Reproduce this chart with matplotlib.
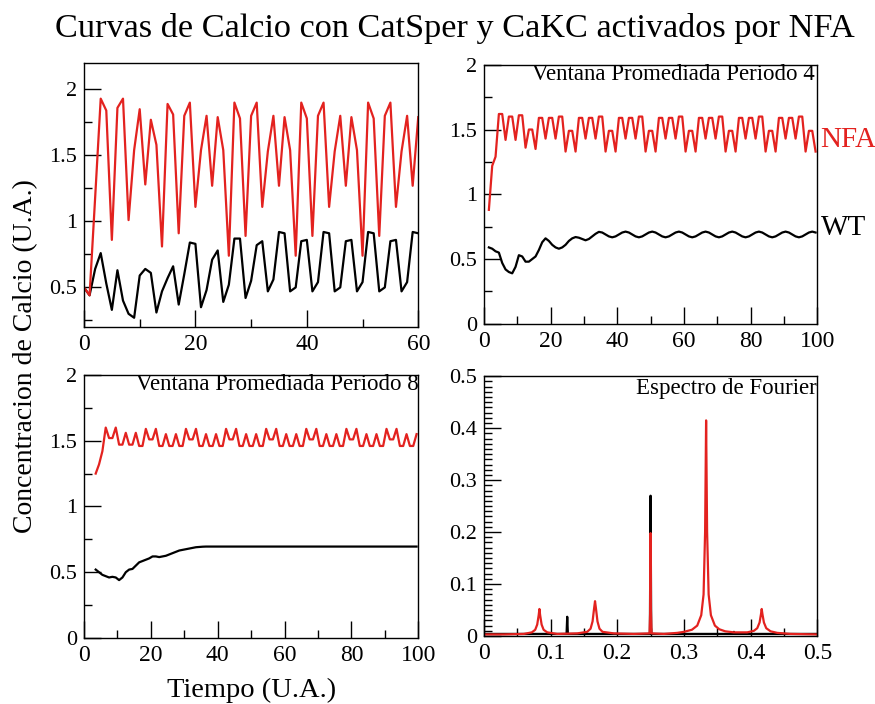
import numpy as np
import matplotlib
matplotlib.use("Agg")
import matplotlib.pyplot as plt
from matplotlib.ticker import MultipleLocator, FuncFormatter

plt.rcParams["font.family"] = ["Liberation Serif", "DejaVu Serif"]

ROJO = "#e3221f"
NEGRO = "black"

# ---------------------------------------------------------------
# Curvas originales (t = 0..60)
# ---------------------------------------------------------------
t_curvas = np.arange(0, 61)
calcio_nfa = [
    0.50, 0.44, 1.18, 1.93, 1.84, 0.86, 1.86, 1.93, 1.01, 1.54,
    1.85, 1.28, 1.77, 1.58, 0.81, 1.89, 1.81, 0.91, 1.80, 1.90,
    1.11, 1.54, 1.80, 1.27, 1.79, 1.54, 0.74, 1.90, 1.78, 0.89,
    1.80, 1.90, 1.11, 1.53, 1.80, 1.27, 1.79, 1.54, 0.74, 1.90,
    1.78, 0.89, 1.80, 1.90, 1.11, 1.53, 1.80, 1.27, 1.79, 1.54,
    0.74, 1.90, 1.78, 0.89, 1.80, 1.90, 1.11, 1.53, 1.80, 1.27,
    1.79,
]
calcio_wt = [
    0.50, 0.44, 0.64, 0.76, 0.53, 0.33, 0.63, 0.40, 0.30, 0.27,
    0.59, 0.64, 0.61, 0.31, 0.47, 0.57, 0.66, 0.37, 0.60, 0.84,
    0.83, 0.35, 0.48, 0.71, 0.78, 0.39, 0.52, 0.87, 0.87, 0.42,
    0.55, 0.82, 0.85, 0.47, 0.56, 0.92, 0.91, 0.47, 0.50, 0.85,
    0.86, 0.47, 0.54, 0.92, 0.91, 0.47, 0.50, 0.85, 0.86, 0.47,
    0.54, 0.92, 0.91, 0.47, 0.50, 0.85, 0.86, 0.47, 0.54, 0.92,
    0.91,
]

# ---------------------------------------------------------------
# Ventana promediada periodo 4 (t = 1.5..99.5)
# ---------------------------------------------------------------
t_ventana4 = np.arange(1.5, 100, 1.0)
ventana4_nfa = [
    0.88, 1.22, 1.29, 1.62, 1.62, 1.42, 1.60, 1.60, 1.42, 1.61, 1.61, 1.36, 1.50, 1.50, 1.35,
    1.59, 1.59, 1.43, 1.59, 1.59, 1.43, 1.60, 1.60, 1.33, 1.49, 1.49, 1.33,
    1.59, 1.59, 1.43, 1.59, 1.59, 1.43, 1.60, 1.60, 1.33, 1.49, 1.49, 1.33,
    1.59, 1.59, 1.43, 1.59, 1.59, 1.43, 1.60, 1.60, 1.33, 1.49, 1.49, 1.33,
    1.59, 1.59, 1.43, 1.59, 1.59, 1.43, 1.60, 1.60, 1.33, 1.49, 1.49, 1.33,
    1.59, 1.59, 1.43, 1.59, 1.59, 1.43, 1.60, 1.60, 1.33, 1.49, 1.49, 1.33,
    1.59, 1.59, 1.43, 1.59, 1.59, 1.43, 1.60, 1.60, 1.33, 1.49, 1.49, 1.33,
    1.59, 1.59, 1.43, 1.59, 1.59, 1.43, 1.60, 1.60, 1.33, 1.49, 1.49, 1.33,
]
ventana4_wt = [
    0.59, 0.58, 0.56, 0.55, 0.47, 0.42, 0.40, 0.39, 0.44, 0.53,
    0.52, 0.48, 0.48, 0.50, 0.52, 0.57, 0.63, 0.66, 0.64, 0.61,
    0.59, 0.58, 0.59, 0.61, 0.64, 0.66, 0.67, 0.665, 0.655, 0.645,
    0.655, 0.675, 0.695, 0.71, 0.705, 0.69, 0.675, 0.668, 0.675, 0.69,
    0.705, 0.712,
    0.705, 0.69, 0.675, 0.668, 0.675, 0.69, 0.705, 0.712,
    0.705, 0.69, 0.675, 0.668, 0.675, 0.69, 0.705, 0.712,
    0.705, 0.69, 0.675, 0.668, 0.675, 0.69, 0.705, 0.712,
    0.705, 0.69, 0.675, 0.668, 0.675, 0.69, 0.705, 0.712,
    0.705, 0.69, 0.675, 0.668, 0.675, 0.69, 0.705, 0.712,
    0.705, 0.69, 0.675, 0.668, 0.675, 0.69, 0.705, 0.712,
    0.705, 0.69, 0.675, 0.668, 0.675, 0.69, 0.705, 0.712,
    0.705,
]

# ---------------------------------------------------------------
# Ventana promediada periodo 8 (t = 3.5..99.5)
# ---------------------------------------------------------------
t_ventana8 = np.arange(3.5, 100, 1.0)
ventana8_nfa = [
    1.25, 1.32, 1.42,
    1.60, 1.52, 1.52, 1.60, 1.47, 1.47, 1.56, 1.47, 1.47, 1.56, 1.46, 1.46,
    1.59, 1.51, 1.51, 1.59, 1.46, 1.46, 1.55, 1.46, 1.46, 1.55, 1.46, 1.46,
    1.59, 1.51, 1.51, 1.59, 1.46, 1.46, 1.55, 1.46, 1.46, 1.55, 1.46, 1.46,
    1.59, 1.51, 1.51, 1.59, 1.46, 1.46, 1.55, 1.46, 1.46, 1.55, 1.46, 1.46,
    1.59, 1.51, 1.51, 1.59, 1.46, 1.46, 1.55, 1.46, 1.46, 1.55, 1.46, 1.46,
    1.59, 1.51, 1.51, 1.59, 1.46, 1.46, 1.55, 1.46, 1.46, 1.55, 1.46, 1.46,
    1.59, 1.51, 1.51, 1.59, 1.46, 1.46, 1.55, 1.46, 1.46, 1.55, 1.46, 1.46,
    1.59, 1.51, 1.51, 1.59, 1.46, 1.46, 1.55, 1.46, 1.46, 1.55,
]
ventana8_wt = [
    0.52, 0.50, 0.48, 0.47, 0.46, 0.465, 0.46, 0.44, 0.46, 0.50, 0.52,
    0.525, 0.55, 0.575, 0.585, 0.595, 0.605, 0.62, 0.62, 0.615, 0.62, 0.625,
    0.635, 0.645, 0.655, 0.665, 0.67, 0.675, 0.68, 0.685, 0.69, 0.692, 0.694,
    0.695, 0.695, 0.695, 0.695, 0.695, 0.695, 0.695, 0.695, 0.695, 0.695, 0.695, 0.695, 0.695, 0.695, 0.695, 0.695,
    0.695, 0.695, 0.695, 0.695, 0.695, 0.695, 0.695, 0.695, 0.695, 0.695, 0.695, 0.695, 0.695, 0.695, 0.695, 0.695,
    0.695, 0.695, 0.695, 0.695, 0.695, 0.695, 0.695, 0.695, 0.695, 0.695, 0.695, 0.695, 0.695, 0.695, 0.695, 0.695,
    0.695, 0.695, 0.695, 0.695, 0.695, 0.695, 0.695, 0.695, 0.695, 0.695, 0.695, 0.695, 0.695, 0.695, 0.695, 0.695,
]

# ---------------------------------------------------------------
# Espectro de Fourier
# ---------------------------------------------------------------
frec_nfa = [
    0.000, 0.030, 0.060, 0.072, 0.077, 0.080, 0.0822, 0.0833, 0.0844, 0.0866,
    0.0896, 0.095, 0.110, 0.140, 0.155, 0.160, 0.163, 0.1652, 0.1667, 0.1682,
    0.1704, 0.1734, 0.178, 0.195, 0.225, 0.2485, 0.2495, 0.2500, 0.2505, 0.2515,
    0.270, 0.290, 0.300, 0.312, 0.320, 0.326, 0.3295, 0.3318, 0.3333, 0.3348,
    0.3371, 0.3405, 0.3465, 0.353, 0.362, 0.375, 0.395, 0.405, 0.410, 0.4135,
    0.4156, 0.4167, 0.4178, 0.420, 0.4235, 0.430, 0.440, 0.460, 0.500,
]
amp_nfa = [
    0.003, 0.003, 0.004, 0.007, 0.012, 0.022, 0.040, 0.052, 0.040, 0.022,
    0.012, 0.007, 0.004, 0.005, 0.008, 0.014, 0.028, 0.052, 0.067, 0.052,
    0.028, 0.014, 0.008, 0.005, 0.004, 0.005, 0.050, 0.198, 0.050, 0.005,
    0.004, 0.006, 0.008, 0.012, 0.020, 0.040, 0.080, 0.200, 0.415, 0.200,
    0.080, 0.040, 0.020, 0.013, 0.009, 0.007, 0.007, 0.010, 0.015, 0.026,
    0.042, 0.052, 0.042, 0.026, 0.015, 0.009, 0.006, 0.004, 0.003,
]
frec_wt = [
    0.000, 0.1240, 0.1250, 0.1260, 0.2490, 0.2500, 0.2510,
    0.3740, 0.3750, 0.3760, 0.500,
]
amp_wt = [
    0.004, 0.004, 0.037, 0.004, 0.004, 0.270, 0.004,
    0.004, 0.008, 0.004, 0.004,
]

fmt = FuncFormatter(lambda v, pos: f"{v:g}")


def estilo_ejes(ax, xmaj, xmin, ymaj, ymin):
    ax.xaxis.set_major_locator(MultipleLocator(xmaj))
    ax.xaxis.set_minor_locator(MultipleLocator(xmin))
    ax.yaxis.set_major_locator(MultipleLocator(ymaj))
    ax.yaxis.set_minor_locator(MultipleLocator(ymin))
    ax.xaxis.set_major_formatter(fmt)
    ax.yaxis.set_major_formatter(fmt)
    ax.tick_params(which="both", direction="in", top=False, right=False,
                   width=1.0)
    ax.tick_params(which="major", length=12)
    ax.tick_params(which="minor", length=6)
    ax.tick_params(axis="x", labelsize=17, pad=5)
    ax.tick_params(axis="y", labelsize=16, pad=5)
    for s in ax.spines.values():
        s.set_linewidth(1.0)


fig = plt.figure(figsize=(8.75, 7.04), dpi=100)
ax1 = fig.add_axes([0.096, 0.5355, 0.382, 0.375])
ax2 = fig.add_axes([0.553, 0.540, 0.381, 0.368])
ax3 = fig.add_axes([0.096, 0.0938, 0.382, 0.3736])
ax4 = fig.add_axes([0.553, 0.0966, 0.381, 0.369])

# Panel 1: curvas de calcio
ax1.plot(t_curvas, calcio_wt, color=NEGRO, lw=1.6)
ax1.plot(t_curvas, calcio_nfa, color=ROJO, lw=1.6)
ax1.set_xlim(0, 60)
ax1.set_ylim(0.2, 2.2)
estilo_ejes(ax1, 20, 10, 0.5, 0.25)

# Panel 2: ventana periodo 4
ax2.plot(t_ventana4, ventana4_wt, color=NEGRO, lw=1.6)
ax2.plot(t_ventana4, ventana4_nfa, color=ROJO, lw=1.6)
ax2.set_xlim(0, 100)
ax2.set_ylim(0, 2)
estilo_ejes(ax2, 20, 10, 0.5, 0.25)
ax2.text(0.994, 0.961, "Ventana Promediada Periodo 4", transform=ax2.transAxes,
         ha="right", va="center", fontsize=16.5)
ax2.text(101, 1.42, "NFA", color=ROJO, fontsize=21, ha="left", va="center",
         clip_on=False)
ax2.text(101, 0.74, "WT", color=NEGRO, fontsize=21, ha="left", va="center",
         clip_on=False)

# Panel 3: ventana periodo 8
ax3.plot(t_ventana8, ventana8_wt, color=NEGRO, lw=1.6)
ax3.plot(t_ventana8, ventana8_nfa, color=ROJO, lw=1.6)
ax3.set_xlim(0, 100)
ax3.set_ylim(0, 2)
estilo_ejes(ax3, 20, 10, 0.5, 0.25)
ax3.text(1.0, 0.962, "Ventana Promediada Periodo 8", transform=ax3.transAxes,
         ha="right", va="center", fontsize=16.5)

# Panel 4: espectro de Fourier
ax4.plot(frec_wt, amp_wt, color=NEGRO, lw=1.6)
ax4.plot(frec_nfa, amp_nfa, color=ROJO, lw=1.6)
ax4.set_xlim(0, 0.5)
ax4.set_ylim(0, 0.5)
estilo_ejes(ax4, 0.1, 0.05, 0.1, 0.01)
ax4.text(1.0, 0.954, "Espectro de Fourier", transform=ax4.transAxes,
         ha="right", va="center", fontsize=16.5)

fig.text(455 / 875, 1 - 29 / 704,
         "Curvas de Calcio con CatSper y CaKC activados por NFA",
         ha="center", va="center", fontsize=24.7)
fig.text(26 / 875, 1 - 356 / 704, "Concentracion de Calcio (U.A.)",
         rotation=90, ha="center", va="center", fontsize=20)
fig.text(252 / 875, 1 - 690 / 704, "Tiempo (U.A.)",
         ha="center", va="center", fontsize=20.5)

fig.savefig("out.png", dpi=100)
